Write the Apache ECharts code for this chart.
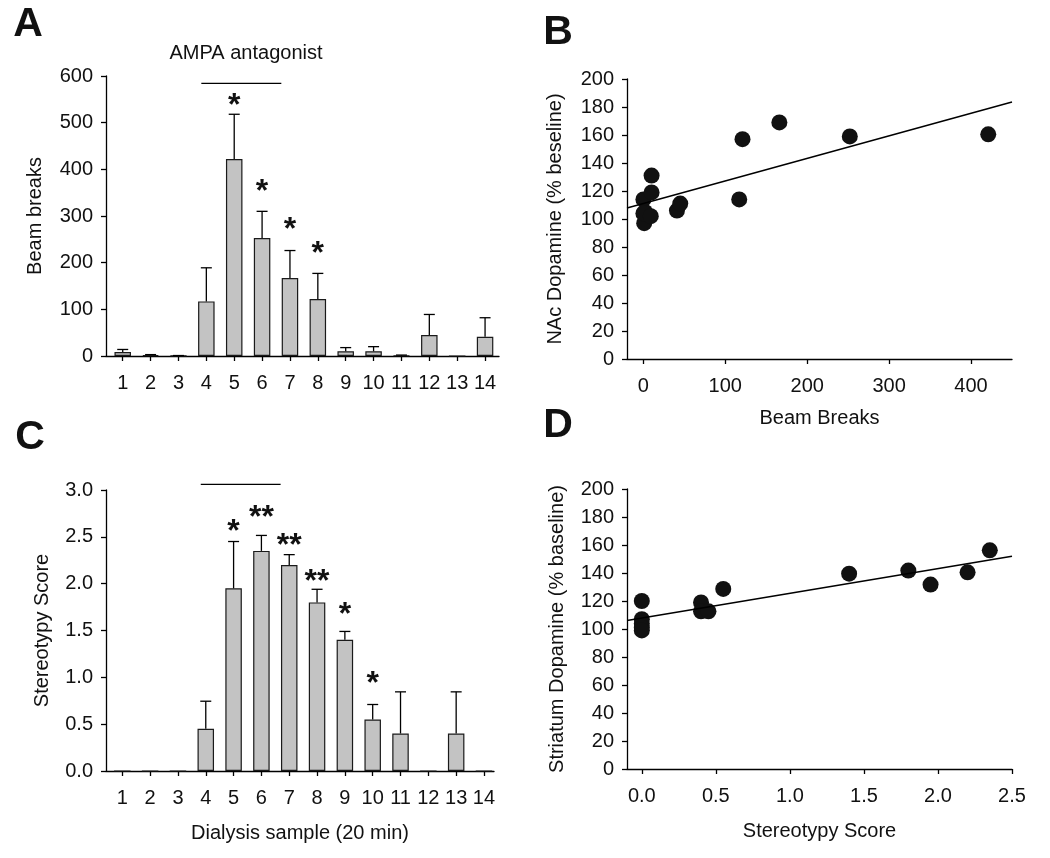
<!DOCTYPE html>
<html>
<head>
<meta charset="utf-8">
<script src="https://cdn.jsdelivr.net/npm/echarts@6/dist/echarts.min.js"></script>
<style>html,body{margin:0;padding:0;background:#fff;}#c{width:1050px;height:858px;}</style>
</head>
<body>
<div id="c"></div>
<script>
// ---- data ----
const samples = [1,2,3,4,5,6,7,8,9,10,11,12,13,14];
const beamBreaks = [8.6, 2, 0.5, 117, 422, 253, 167, 122, 10, 10, 1, 45, 0, 41];
const beamBreaksErrTop = [14, 3, 1, 189, 518, 310, 226, 177, 18, 20, 2, 89, 0, 82];
const stereotypy = [0, 0, 0, 0.45, 1.95, 2.35, 2.2, 1.8, 1.4, 0.55, 0.4, 0, 0.4, 0];
const stereotypyErrTop = [0, 0, 0, 0.745, 2.45, 2.515, 2.31, 1.94, 1.49, 0.71, 0.845, 0, 0.845, 0];
const starsASample = [5, 6, 7, 8];
const starsAY = [550, 367, 285, 234];
const starsAText = ['*', '*', '*', '*'];
const starsCSample = [5, 6, 7, 8, 9, 10];
const starsCY = [2.625, 2.77, 2.47, 2.09, 1.74, 1.0];
const starsCText = ['*', '**', '**', '**', '*', '*'];
const drugBarSamples = [3.82, 6.69];
const drugBarA = 584;
const drugBarC = 3.06;
const nacX = [0, 2, 1, 0, 9, 10, 10, 41, 45, 117, 121, 166, 252, 421];
const nacY = [114, 105, 97, 104, 102, 119, 131, 106, 111, 114, 157, 169, 159, 160.5];
const nacFitX = [-20, 450];
const nacFitY = [107.9, 183.6];
const strX = [0, 0, 0, 0, 0, 0.4, 0.4, 0.45, 0.55, 1.4, 1.8, 1.95, 2.2, 2.35];
const strY = [120, 107, 104, 101, 99, 119, 112.6, 112.6, 128.6, 139.5, 141.7, 131.7, 140.5, 156.2];
const strFitX = [-0.1, 2.5];
const strFitY = [106, 151.9];
const ticksB = [0, 100, 200, 300, 400];
const ticksD = [0, 0.5, 1.0, 1.5, 2.0, 2.5];

// ---- styling ----
const FONT = "'Liberation Sans', Arial, sans-serif";
const axisLine = {show: true, onZero: false, lineStyle: {color: '#000', width: 1.3}};
const axisTick = {show: true, inside: false, length: 5, lineStyle: {color: '#000', width: 1.3}};
const lbl = {color: '#111', fontSize: 20, fontFamily: FONT};
const nameStyle = {color: '#111', fontSize: 20, fontFamily: FONT};

function xCat(grid, min, max, name, gap) {
  return {
    type: 'value', gridIndex: grid, min: min, max: max,
    axisLine: axisLine,
    axisTick: Object.assign({customValues: samples}, axisTick),
    axisLabel: Object.assign({customValues: samples, margin: 17}, lbl),
    splitLine: {show: false},
    name: name, nameLocation: 'middle', nameGap: gap, nameTextStyle: nameStyle
  };
}
function yVal(grid, min, max, interval, name, gap, dec) {
  return {
    type: 'value', gridIndex: grid, min: min, max: max, interval: interval,
    axisLine: axisLine, axisTick: axisTick,
    axisLabel: Object.assign({margin: 13, formatter: v => dec ? v.toFixed(1) : String(v)}, lbl),
    splitLine: {show: false},
    name: name, nameLocation: 'middle', nameGap: gap, nameRotate: 90, nameTextStyle: nameStyle
  };
}

function errRender(params, api) {
  const x = api.value(0), v = api.value(1), e = api.value(2);
  if (!(e > v)) return null;
  const p0 = api.coord([x, v]), p1 = api.coord([x, e]);
  const st = {stroke: '#000', lineWidth: 1.3};
  return {type: 'group', children: [
    {type: 'line', shape: {x1: p0[0], y1: p0[1], x2: p1[0], y2: p1[1]}, style: st},
    {type: 'line', shape: {x1: p1[0] - 5.5, y1: p1[1], x2: p1[0] + 5.5, y2: p1[1]}, style: st}
  ]};
}
function starRender(texts) {
  return function (params, api) {
    const p = api.coord([api.value(0), api.value(1)]);
    return {type: 'text', x: p[0], y: p[1] + 7, style: {
      text: texts[params.dataIndex], fill: '#111', font: 'bold 32px ' + FONT,
      textAlign: 'center', align: 'center', textVerticalAlign: 'middle', verticalAlign: 'middle'
    }};
  };
}

const barStyle = {color: '#c3c3c3', borderColor: '#1a1a1a', borderWidth: 1.2};

const option = {
  backgroundColor: '#fff',
  animation: false,
  textStyle: {fontFamily: FONT},
  grid: [
    {left: 106, top: 76, width: 393, height: 280},
    {left: 627, top: 79, width: 385, height: 280},
    {left: 106, top: 490, width: 388, height: 281},
    {left: 627, top: 489, width: 385, height: 280}
  ],
  xAxis: [
    xCat(0, 0.4, 14.5, '', 0),
    {type: 'value', gridIndex: 1, min: -20, max: 450, axisLine: axisLine,
     axisTick: Object.assign({customValues: ticksB}, axisTick),
     axisLabel: Object.assign({customValues: ticksB, margin: 17}, lbl),
     splitLine: {show: false}, name: 'Beam Breaks', nameLocation: 'middle', nameGap: 49, nameTextStyle: nameStyle},
    xCat(2, 0.414, 14.36, 'Dialysis sample (20 min)', 52),
    {type: 'value', gridIndex: 3, min: -0.1, max: 2.5, axisLine: axisLine,
     axisTick: Object.assign({customValues: ticksD}, axisTick),
     axisLabel: Object.assign({customValues: ticksD, margin: 17, formatter: v => v.toFixed(1)}, lbl),
     splitLine: {show: false}, name: 'Stereotypy Score', nameLocation: 'middle', nameGap: 52, nameTextStyle: nameStyle}
  ],
  yAxis: [
    yVal(0, 0, 600, 100, 'Beam breaks', 61, false),
    yVal(1, 0, 200, 20, 'NAc Dopamine (% beseline)', 62, false),
    yVal(2, 0, 3, 0.5, 'Stereotypy Score', 54, true),
    yVal(3, 0, 200, 20, 'Striatum Dopamine (% baseline)', 60, false)
  ],
  graphic: [
    {type: 'text', x: 28, y: 25, style: {text: 'A', font: 'bold 41px ' + FONT, fill: '#111', textAlign: 'center', textVerticalAlign: 'middle', align: 'center', verticalAlign: 'middle'}},
    {type: 'text', x: 558, y: 33, style: {text: 'B', font: 'bold 41px ' + FONT, fill: '#111', textAlign: 'center', textVerticalAlign: 'middle', align: 'center', verticalAlign: 'middle'}},
    {type: 'text', x: 30, y: 438, style: {text: 'C', font: 'bold 41px ' + FONT, fill: '#111', textAlign: 'center', textVerticalAlign: 'middle', align: 'center', verticalAlign: 'middle'}},
    {type: 'text', x: 558, y: 426, style: {text: 'D', font: 'bold 41px ' + FONT, fill: '#111', textAlign: 'center', textVerticalAlign: 'middle', align: 'center', verticalAlign: 'middle'}},
    {type: 'text', x: 246, y: 53, style: {text: 'AMPA antagonist', font: '20px ' + FONT, fill: '#111', textAlign: 'center', textVerticalAlign: 'middle', align: 'center', verticalAlign: 'middle'}}
  ],
  series: [
    // Panel A
    {type: 'bar', xAxisIndex: 0, yAxisIndex: 0, barWidth: 16.5, itemStyle: barStyle,
     data: samples.map((s, i) => [s, beamBreaks[i]])},
    {type: 'custom', xAxisIndex: 0, yAxisIndex: 0, renderItem: errRender, z: 3,
     data: samples.map((s, i) => [s, beamBreaks[i], beamBreaksErrTop[i]])},
    {type: 'custom', xAxisIndex: 0, yAxisIndex: 0, renderItem: starRender(starsAText), z: 4,
     data: starsASample.map((s, i) => [s, starsAY[i]])},
    {type: 'line', xAxisIndex: 0, yAxisIndex: 0, symbol: 'none', clip: false,
     lineStyle: {color: '#000', width: 1.3}, data: drugBarSamples.map(s => [s, drugBarA])},
    // Panel B
    {type: 'scatter', xAxisIndex: 1, yAxisIndex: 1, symbolSize: 16, itemStyle: {color: '#111', opacity: 1},
     data: nacX.map((x, i) => [x, nacY[i]])},
    {type: 'line', xAxisIndex: 1, yAxisIndex: 1, symbol: 'none', lineStyle: {color: '#000', width: 1.5},
     data: nacFitX.map((x, i) => [x, nacFitY[i]])},
    // Panel C
    {type: 'bar', xAxisIndex: 2, yAxisIndex: 2, barWidth: 16.5, itemStyle: barStyle,
     data: samples.map((s, i) => [s, stereotypy[i]])},
    {type: 'custom', xAxisIndex: 2, yAxisIndex: 2, renderItem: errRender, z: 3,
     data: samples.map((s, i) => [s, stereotypy[i], stereotypyErrTop[i]])},
    {type: 'custom', xAxisIndex: 2, yAxisIndex: 2, renderItem: starRender(starsCText), z: 4, clip: false,
     data: starsCSample.map((s, i) => [s, starsCY[i]])},
    {type: 'line', xAxisIndex: 2, yAxisIndex: 2, symbol: 'none', clip: false,
     lineStyle: {color: '#000', width: 1.3}, data: drugBarSamples.map(s => [s, drugBarC])},
    // Panel D
    {type: 'scatter', xAxisIndex: 3, yAxisIndex: 3, symbolSize: 16, itemStyle: {color: '#111', opacity: 1},
     data: strX.map((x, i) => [x, strY[i]])},
    {type: 'line', xAxisIndex: 3, yAxisIndex: 3, symbol: 'none', lineStyle: {color: '#000', width: 1.5},
     data: strFitX.map((x, i) => [x, strFitY[i]])}
  ]
};
const chart = echarts.init(document.getElementById('c'), null, {renderer: 'canvas'});
chart.setOption(option);
</script>
</body>
</html>
